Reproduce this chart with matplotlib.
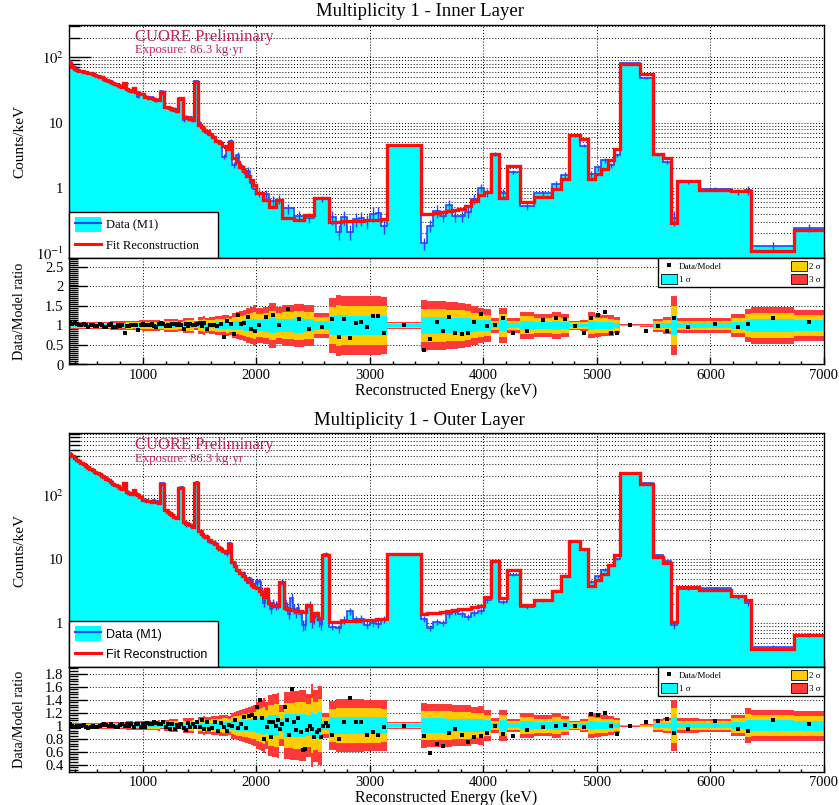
import numpy as np
import matplotlib
matplotlib.use("Agg")
import matplotlib.pyplot as plt
from matplotlib.patches import Patch
from matplotlib.lines import Line2D
from matplotlib.ticker import (LogLocator, NullFormatter, MultipleLocator,
                               AutoMinorLocator, FuncFormatter)

plt.rcParams["font.family"] = ["Liberation Serif", "DejaVu Serif"]
plt.rcParams["mathtext.fontset"] = "stix"

CYAN = "#00ffff"
BLUE = "#2444ff"
RED = "#ff0d0d"
ORANGE = "#ffcc00"
RED3 = "#ff3838"
CUORE_RED = "#c3245a"

# ---------------------------------------------------------------- binning (keV)
FINE_EDGES = np.arange(350, 1550, 20)
INNER_MID_EDGES = np.arange(1550, 2000, 30)
OUTER_MID_EDGES = np.arange(1550, 2000, 25)
INNER_2K_EDGES = [2000, 2055, 2115, 2170, 2230, 2330, 2420, 2510]
OUTER_2K_EDGES = np.arange(2000, 2640, 20)
CONT_EDGES = [2640, 2700, 2750, 2800, 2850, 2900, 2950, 3000, 3050, 3100]
HIGH_EDGES = [3150, 3450, 3505, 3560, 3615, 3670, 3725, 3780, 3835, 3890,
              3950, 4005, 4065, 4140, 4205, 4325, 4450, 4600, 4680, 4755,
              4850, 4920, 4980, 5040, 5100, 5150, 5205, 5375, 5490, 5580,
              5650, 5705, 5900, 6180, 6300, 6355, 6740, 7000]

# ---------------------------------------------------------------- inner layer
# fit reconstruction (counts/keV)
inner_model_low = [82, 72, 66, 64, 62, 61, 60, 59, 58, 57,
                   56, 54, 52, 50, 49, 47, 45, 44, 42, 40,
                   39, 37, 36, 35, 41, 33, 31, 30, 34, 29,
                   28, 27.5, 27, 25, 24.5, 24, 23.5, 23, 22.5, 22,
                   28, 29, 17.5, 17, 16.5, 16, 15.5, 15, 23, 23.5,
                   12.3, 12, 11.7, 11.4, 11, 42, 42, 9.2, 8.5, 7.8]
inner_model_mid = [7.4, 6.6, 6.0, 5.3, 4.8, 4.3, 3.9, 5.0, 2.9, 2.5,
                   2.1, 1.8, 1.5, 1.3, 1.1]
inner_model_2k = [0.83, 0.66, 0.50, 0.66, 0.34, 0.32, 0.38, 0.70]
inner_model_cont = [0.30, 0.30, 0.305, 0.31, 0.31, 0.315, 0.32, 0.32, 0.325, 0.33]
inner_model_high = [4.6,
                    0.39, 0.40, 0.41, 0.43, 0.44, 0.46, 0.48, 0.52, 0.62, 0.78,
                    0.85, 3.3, 0.70, 2.19, 0.60, 0.72, 0.95, 1.35, 6.45, 5.5,
                    1.35, 1.6, 1.95, 2.7, 3.9, 80, 55, 3.3, 2.9, 0.29,
                    1.28, 0.93, 0.90, 0.88, 0.107, 0.225]
# data / model
inner_ratio_low = [1.06, 1.03, 1.06, 1.04, 1.02, 1.00, 1.03, 1.02, 0.97, 1.01,
                   1.01, 0.99, 0.98, 1.03, 1.00, 0.96, 0.96, 1.00, 1.03, 0.97,
                   0.97, 1.00, 0.98, 1.01, 0.82, 0.98, 0.99, 1.00, 1.00, 1.01,
                   0.88, 1.01, 1.03, 1.01, 1.00, 1.00, 1.04, 0.98, 0.96, 1.03,
                   1.07, 1.03, 0.98, 1.01, 0.98, 1.03, 1.05, 1.00, 1.03, 1.01,
                   0.90, 1.03, 0.98, 1.05, 1.00, 1.02, 1.04, 1.06, 0.99, 1.06]
inner_ratio_mid = [0.92, 1.00, 1.01, 0.98, 1.04, 0.70, 1.11, 1.05, 0.77, 1.28,
                   1.03, 1.06, 1.21, 0.90, 0.86]
inner_ratio_2k = [1.02, 1.21, 1.26, 1.00, 1.42, 1.17, 0.92, 0.96]
inner_ratio_cont = [1.17, 0.71, 1.17, 0.69, 1.07, 1.09, 0.97, 1.25, 1.25, 0.80]
inner_ratio_high = [1.00,
                    0.36, 0.66, 1.08, 0.87, 1.23, 0.80, 0.78, 0.82, 1.10, 1.29,
                    0.99, 1.01, 1.20, 0.80, 0.87, 1.15, 1.20, 1.16, 0.98, 0.80,
                    1.20, 1.28, 1.35, 0.82, 0.82, 1.01, 0.87, 0.99, 0.85, 1.20,
                    0.97, 1.03, 0.96, 1.04, 1.20, 1.09]

# ---------------------------------------------------------------- outer layer
outer_model_low = [440, 400, 370, 350, 335, 318, 300, 285, 268, 250,
                   240, 228, 218, 210, 200, 190, 180, 170, 160, 150,
                   142, 136, 128, 122, 152, 112, 108, 104, 120, 104,
                   100, 94, 84, 82, 81, 80, 79, 78, 77, 75,
                   148, 148, 58, 55, 52, 49, 46, 44, 130, 130,
                   38, 36, 35, 34, 32, 152, 152, 27, 25, 23]
outer_model_mid = [22, 20, 18.5, 17, 15.5, 14.5, 13.5, 13, 17.5, 9.0,
                   7.8, 6.8, 6.0, 5.4, 4.9, 4.4, 4.0, 3.7]
outer_model_2k = [3.5, 3.2, 2.9, 2.6, 3.4, 2.1, 2.0, 1.95, 1.9, 1.85,
                  4.4, 4.4, 1.72, 1.68, 1.65, 1.62, 1.60, 1.58, 1.56, 1.55,
                  1.52, 1.50, 1.91, 1.91, 1.12, 1.47, 1.47, 1.20, 1.20, 11.6,
                  11.6, 11.6]
outer_model_cont = [1.05, 1.06, 1.08, 1.09, 1.10, 1.12, 1.13, 1.14, 1.16, 1.18]
outer_model_high = [12,
                    1.42, 1.45, 1.48, 1.52, 1.56, 1.60, 1.65, 1.70, 1.78, 1.88,
                    2.58, 9.3, 2.5, 6.7, 1.91, 2.29, 3.2, 5.5, 19.3, 14.3,
                    3.8, 4.7, 5.8, 8.1, 11.6, 219, 147, 10.8, 8.6, 1.05,
                    3.7, 3.3, 2.67, 2.29, 0.40, 0.65]
outer_ratio_low = [1.02, 0.99, 0.98, 1.00, 0.97, 0.99, 1.01, 0.97, 0.96, 0.98,
                   0.99, 0.97, 0.98, 1.00, 1.01, 1.02, 1.01, 1.00, 1.02, 0.99,
                   0.97, 0.98, 1.01, 1.03, 0.99, 1.02, 1.00, 1.03, 0.98, 1.03,
                   1.02, 0.98, 1.03, 0.98, 1.04, 1.02, 1.03, 1.05, 1.04, 1.02,
                   1.03, 1.05, 0.98, 1.03, 0.95, 1.02, 0.94, 1.01, 0.97, 1.03,
                   0.96, 0.93, 1.04, 0.98, 1.02, 0.97, 1.06, 0.97, 1.09, 0.95]
outer_ratio_mid = [1.06, 0.94, 0.96, 1.06, 0.92, 1.04, 0.98, 0.92, 1.01, 1.00,
                   1.09, 0.96, 1.02, 1.13, 0.96, 1.14, 1.16, 1.11]
outer_ratio_2k = [1.29, 1.39, 1.11, 0.80, 0.98, 1.06, 0.83, 1.06, 1.00, 1.08,
                  0.95, 1.02, 1.29, 1.08, 0.85, 1.56, 1.05, 0.93, 1.12, 0.90,
                  0.62, 0.64, 0.93, 1.00, 0.95, 0.83, 0.90, 0.93, 0.83, 1.00,
                  1.04, 1.00]
outer_ratio_cont = [0.85, 0.79, 1.05, 1.42, 1.05, 1.05, 0.85, 0.90, 0.85, 0.98]
outer_ratio_high = [1.00,
                    0.835, 0.585, 0.71, 0.68, 0.886, 0.94, 0.85, 0.74, 0.82, 0.84,
                    0.89, 1.00, 0.87, 0.84, 0.93, 0.98, 0.99, 1.01, 1.00, 0.98,
                    1.18, 1.16, 1.19, 1.00, 0.87, 1.00, 1.05, 1.07, 1.10, 0.89,
                    0.94, 1.07, 0.95, 0.91, 1.08, 1.03]

inner_edges = np.concatenate([FINE_EDGES, INNER_MID_EDGES, INNER_2K_EDGES,
                              CONT_EDGES, HIGH_EDGES]).astype(float)
outer_edges = np.concatenate([FINE_EDGES, OUTER_MID_EDGES, OUTER_2K_EDGES,
                              CONT_EDGES, HIGH_EDGES]).astype(float)
inner_model = np.concatenate([inner_model_low, inner_model_mid, inner_model_2k,
                              inner_model_cont, inner_model_high]).astype(float)
inner_ratio = np.concatenate([inner_ratio_low, inner_ratio_mid, inner_ratio_2k,
                              inner_ratio_cont, inner_ratio_high]).astype(float)
outer_model = np.concatenate([outer_model_low, outer_model_mid, outer_model_2k,
                              outer_model_cont, outer_model_high]).astype(float)
outer_ratio = np.concatenate([outer_ratio_low, outer_ratio_mid, outer_ratio_2k,
                              outer_ratio_cont, outer_ratio_high]).astype(float)
assert len(inner_edges) == len(inner_model) + 1 == len(inner_ratio) + 1
assert len(outer_edges) == len(outer_model) + 1 == len(outer_ratio) + 1

EXPOSURE = "Exposure: 86.3 kg\u00b7yr"
GRID = dict(ls=(0, (1, 2)), color="k", lw=0.7)


def poisson_rel(edges, model):
    """Relative statistical uncertainty of the expected counts in each bin."""
    return 1.0 / np.sqrt(model * np.diff(edges))


def log_label(v, pos):
    e = int(round(np.log10(v)))
    return {0: "1", 1: "10"}.get(e, rf"$10^{{{e}}}$")


def style_x(ax):
    ax.set_xlim(350, 7000)
    ax.xaxis.set_major_locator(MultipleLocator(1000))
    ax.xaxis.set_minor_locator(MultipleLocator(200))
    ax.tick_params(axis="x", which="major", direction="in", length=5, width=1,
                   top=False, labelsize=10.5, pad=3)
    ax.tick_params(axis="x", which="minor", direction="in", length=2.5, width=1,
                   top=False)
    for sp in ax.spines.values():
        sp.set_linewidth(1.0)


def main_panel(ax, edges, model, ratio, ylim, legend_family):
    data = model * ratio
    rel = poisson_rel(edges, model)
    centers = 0.5 * (edges[:-1] + edges[1:])
    ax.set_yscale("log")
    ax.stairs(data, edges, baseline=1e-4, fill=True, color=CYAN, lw=0, zorder=2)
    ax.stairs(data, edges, baseline=None, color=BLUE, lw=1.2, zorder=3)
    ax.errorbar(centers, data, yerr=data * rel, fmt="none", ecolor=BLUE,
                elinewidth=1.0, capsize=0, zorder=3)
    ax.stairs(model, edges, baseline=None, color=RED, lw=2.4, zorder=4)

    style_x(ax)
    ax.set_ylim(*ylim)
    ax.yaxis.set_major_locator(LogLocator(base=10, numticks=10))
    ax.yaxis.set_minor_locator(LogLocator(base=10, subs=np.arange(2, 10), numticks=30))
    ax.yaxis.set_minor_formatter(NullFormatter())
    ax.yaxis.set_major_formatter(FuncFormatter(log_label))
    ax.tick_params(axis="y", which="major", direction="in", length=16, width=1,
                   labelsize=10.5, pad=4, right=False)
    ax.tick_params(axis="y", which="minor", direction="in", length=8, width=1,
                   right=False)
    ax.tick_params(axis="x", labelbottom=False)
    ax.grid(True, axis="y", which="both", **GRID)
    ax.grid(True, axis="x", which="major", **GRID)
    ax.set_axisbelow(True)

    ax.text(0.087, 0.948, "CUORE Preliminary", transform=ax.transAxes,
            color=CUORE_RED, fontsize=12, ha="left", va="center", zorder=6)
    ax.text(0.087, 0.892, EXPOSURE, transform=ax.transAxes,
            color=CUORE_RED, fontsize=9.2, ha="left", va="center", zorder=6)

    h_data = (Patch(facecolor=CYAN, edgecolor="none"),
              Line2D([], [], color=BLUE, lw=1.5))
    h_fit = Line2D([], [], color=RED, lw=2.2)
    box_w = 149.0 / 755.0
    leg = ax.legend([h_data, h_fit], ["Data (M1)", "Fit Reconstruction"],
                    loc="lower left", bbox_to_anchor=(0, 0, box_w, 0.2),
                    mode="expand", borderaxespad=0,
                    prop={"family": legend_family, "size": 9},
                    frameon=True, fancybox=False, edgecolor="k", framealpha=1,
                    handlelength=2.1, handleheight=1.4, handletextpad=0.45,
                    borderpad=0.45, labelspacing=0.5)
    leg.get_frame().set_linewidth(1.0)
    leg.set_zorder(10)


def ratio_panel(ax, edges, model, ratio, ylim, major, minor_div):
    rel = poisson_rel(edges, model)
    centers = 0.5 * (edges[:-1] + edges[1:])
    for k, col in ((3, RED3), (2, ORANGE), (1, CYAN)):
        ax.stairs(1 + k * rel, edges, baseline=1 - k * rel, fill=True,
                  color=col, lw=0, zorder=2)
    ax.plot(centers, ratio, "s", color="k", ms=2.2, mew=0, zorder=4)

    style_x(ax)
    ax.set_ylim(*ylim)
    ax.yaxis.set_major_locator(MultipleLocator(major))
    ax.yaxis.set_minor_locator(AutoMinorLocator(minor_div))
    ax.yaxis.set_major_formatter(FuncFormatter(lambda v, p: f"{v:g}"))
    ax.tick_params(axis="y", which="major", direction="in", length=13, width=1,
                   labelsize=10.5, pad=4, right=False)
    ax.tick_params(axis="y", which="minor", direction="in", length=6.5, width=1,
                   right=False)
    ax.grid(True, which="major", **GRID)
    ax.set_axisbelow(True)
    ax.set_xlabel("Reconstructed Energy (keV)", fontsize=11.5, labelpad=1)

    handles = [Line2D([], [], marker="s", ls="none", color="k", ms=2.4, mew=0),
               Patch(facecolor=CYAN, edgecolor="k", lw=0.6),
               Patch(facecolor=ORANGE, edgecolor="k", lw=0.6),
               Patch(facecolor=RED3, edgecolor="k", lw=0.6)]
    x0 = (658.0 - 69.0) / 755.0
    leg = ax.legend(handles, ["Data/Model", "1 \u03c3", "2 \u03c3", "3 \u03c3"],
                    ncol=2, loc="upper left", bbox_to_anchor=(x0, 0, 1 - x0, 1),
                    mode="expand", borderaxespad=0, fontsize=6.5,
                    frameon=True, fancybox=False, edgecolor="k", framealpha=1,
                    handlelength=1.7, handleheight=1.35, handletextpad=0.3,
                    borderpad=0.35, labelspacing=0.3)
    leg.get_frame().set_linewidth(1.0)
    leg.set_zorder(10)


H = 805.0
W = 839.0
fig = plt.figure(figsize=(W / 100, H / 100), dpi=100)
left, width = 69 / W, (824 - 69) / W


def axes_px(top, bottom):
    return fig.add_axes([left, 1 - bottom / H, width, (bottom - top) / H])


ax_in = axes_px(25, 258)
ax_in_r = axes_px(258, 364.5)
ax_out = axes_px(433.3, 667)
ax_out_r = axes_px(667, 771.7)

main_panel(ax_in, inner_edges, inner_model, inner_ratio, (0.084, 312), "Liberation Serif")
ratio_panel(ax_in_r, inner_edges, inner_model, inner_ratio, (0, 2.73), 0.5, 10)
main_panel(ax_out, outer_edges, outer_model, outer_ratio, (0.21, 910), "Liberation Sans")
ratio_panel(ax_out_r, outer_edges, outer_model, outer_ratio, (0.29, 1.9), 0.2, 5)

fig.text(0.5, 1 - 12 / H, "Multiplicity 1 - Inner Layer", ha="center", va="center",
         fontsize=13.5)
fig.text(0.5, 1 - 420 / H, "Multiplicity 1 - Outer Layer", ha="center", va="center",
         fontsize=13.5)

for (top, bottom), text in (((25, 258), "Counts/keV"),
                            ((258, 364.5), "Data/Model ratio"),
                            ((433.3, 667), "Counts/keV"),
                            ((667, 771.7), "Data/Model ratio")):
    fig.text(20 / W, 1 - 0.5 * (top + bottom) / H, text, rotation=90,
             ha="center", va="center", fontsize=11 if text == "Counts/keV" else 10.3)

fig.savefig("out.png", dpi=100)
